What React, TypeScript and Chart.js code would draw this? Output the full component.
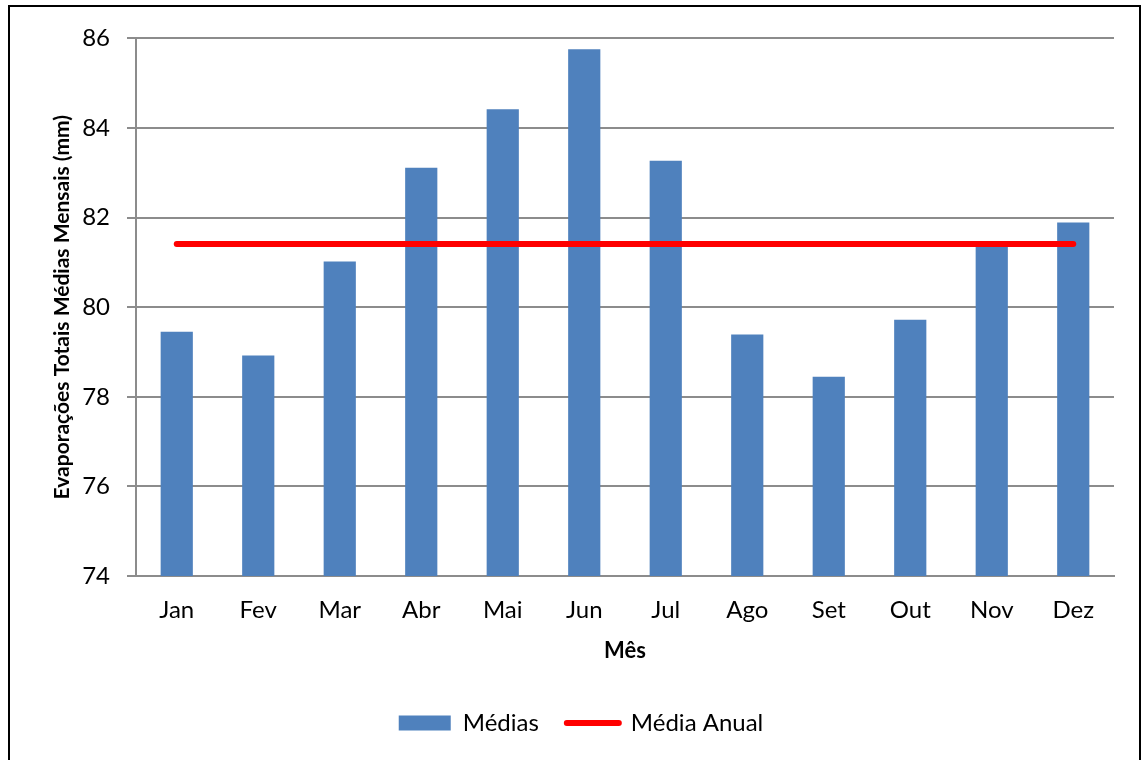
import React, { useEffect, useRef } from 'react';
import { Chart, registerables } from 'chart.js';

Chart.register(...registerables);

const meses = ['Jan', 'Fev', 'Mar', 'Abr', 'Mai', 'Jun', 'Jul', 'Ago', 'Set', 'Out', 'Nov', 'Dez'];
const medias = [79.45, 78.92, 81.02, 83.11, 84.42, 85.76, 83.27, 79.39, 78.45, 79.72, 81.43, 81.89];
const mediaAnual = 81.41;
const yMin = 74;
const yMax = 86;
const yStep = 2;

const FONT = 'Lato, "Open Sans", "DejaVu Sans", sans-serif';
const GRID = '#8c8c8c';

export default function App() {
  const ref = useRef<HTMLCanvasElement | null>(null);

  useEffect(() => {
    if (!ref.current) return;
    Chart.defaults.font.family = FONT;
    const chart = new Chart(ref.current, {
      type: 'bar',
      data: {
        labels: meses,
        datasets: [
          {
            type: 'bar',
            label: 'Médias',
            data: medias,
            backgroundColor: '#4F81BD',
            borderWidth: 0,
            barPercentage: 0.395,
            categoryPercentage: 1,
            order: 2,
          } as any,
          {
            type: 'line',
            label: 'Média Anual',
            data: meses.map(() => mediaAnual),
            borderColor: '#FF0000',
            backgroundColor: '#FF0000',
            borderWidth: 6,
            borderCapStyle: 'round',
            pointRadius: 0,
            pointHoverRadius: 0,
            fill: false,
            order: 1,
          } as any,
        ],
      },
      options: {
        animation: false,
        responsive: false,
        events: [],
        layout: { padding: { left: 38, right: 25, top: 29, bottom: 15 } },
        plugins: {
          tooltip: { enabled: false },
          legend: {
            position: 'bottom',
            labels: {
              usePointStyle: true,
              pointStyleWidth: 52,
              boxHeight: 15,
              padding: 28,
              color: '#000',
              font: { size: 24, family: FONT },
              generateLabels: () => [
                {
                  text: 'Médias',
                  datasetIndex: 0,
                  fillStyle: '#4F81BD',
                  strokeStyle: '#4F81BD',
                  lineWidth: 0,
                  pointStyle: 'rect',
                  hidden: false,
                  fontColor: '#000',
                },
                {
                  text: 'Média Anual',
                  datasetIndex: 1,
                  fillStyle: '#FF0000',
                  strokeStyle: '#FF0000',
                  lineWidth: 6,
                  lineCap: 'round',
                  pointStyle: 'line',
                  hidden: false,
                  fontColor: '#000',
                },
              ] as any,
            },
          },
        },
        scales: {
          x: {
            offset: true,
            grid: { display: false },
            border: { display: true, color: GRID, width: 2 },
            ticks: { color: '#000', font: { size: 24, family: FONT }, padding: 12 },
            title: {
              display: true,
              text: 'Mês',
              color: '#000',
              font: { size: 22, weight: 'bold', family: FONT },
              padding: { top: 0, bottom: 19 },
            },
            afterFit: (s: any) => {
              s.height = 107;
            },
          },
          y: {
            min: yMin,
            max: yMax,
            ticks: { stepSize: yStep, color: '#000', font: { size: 24, family: FONT }, padding: 17 },
            grid: { color: GRID, lineWidth: 2, tickLength: 9, tickColor: GRID, drawTicks: true },
            border: { display: true, color: GRID, width: 2 },
            title: {
              display: true,
              text: 'Evaporações Totais Médias Mensais (mm)',
              color: '#000',
              font: { size: 21, weight: 'bold', family: FONT },
              padding: { top: 1.4, bottom: 0 },
            },
            afterFit: (s: any) => {
              s.width = 88;
            },
          },
        },
      } as any,
    });
    return () => chart.destroy();
  }, []);

  return (
    <div
      style={{
        position: 'absolute',
        left: 8,
        top: 5,
        width: 1129,
        height: 760,
        border: '2px solid #000',
        background: '#fff',
      }}
    >
      <canvas ref={ref} width={1129} height={753} style={{ display: 'block' }} />
    </div>
  );
}
